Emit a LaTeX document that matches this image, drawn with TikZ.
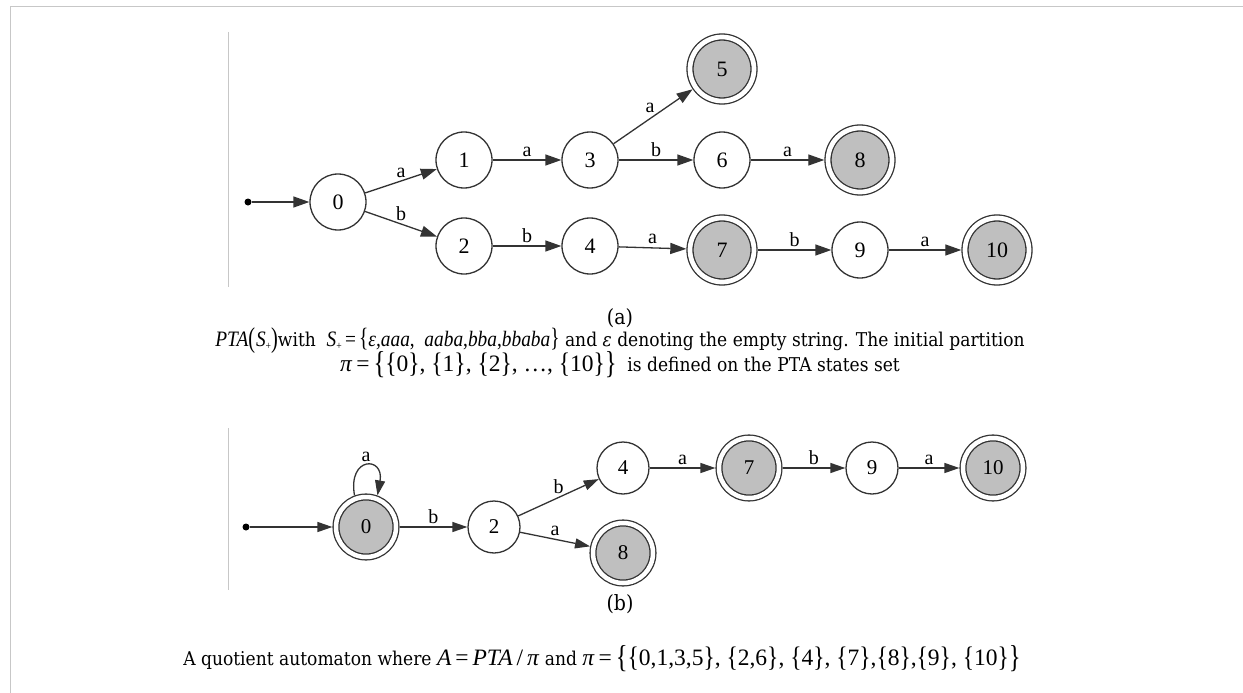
\documentclass[tikz,border=0pt]{standalone}
\usepackage{amsmath}
\usepackage{graphicx}
\usepackage{fontspec}
\setmainfont{DejaVu Serif}[FakeStretch=0.9]
\newfontfamily\gvfont{Liberation Serif}
\usetikzlibrary{arrows.meta}

% math-like pieces of the captions: Times italic letters, tall delimiters
\newcommand\gvsize{\fontsize{22}{24}\selectfont\gvfont}
\newcommand\gvbig{\fontsize{23.5}{24}\selectfont\gvfont}
\newcommand\mm[1]{\scalebox{0.88}[1]{\gvsize #1}}
\newcommand\md[1]{\scalebox{1.0}[1]{\gvbig #1}}
\newcommand\lb{\raisebox{-0.5pt}{\scalebox{1}[1.2]{\{}}}
\newcommand\rb{\raisebox{-0.5pt}{\scalebox{1}[1.2]{\}}}}
\newcommand\LB{\raisebox{-2pt}{\scalebox{1.05}[1.35]{\{}}}
\newcommand\RB{\raisebox{-2pt}{\scalebox{1.05}[1.35]{\}}}}
\newcommand\LP{\raisebox{-1.5pt}{\scalebox{1.05}[1.3]{(}}}
\newcommand\RP{\raisebox{-1.5pt}{\scalebox{1.05}[1.3]{)}}}
\newcommand\plus{\raisebox{-3pt}{\fontsize{11}{11}\selectfont+}}

\tikzset{
  x=1pt, y=-1pt,
  pageframe/.style={draw=black!22, line width=1.5pt},
  siderule/.style={draw=black!22, line width=0.9pt},
  state/.style={circle, draw=black!80, line width=1.3pt, fill=white,
    minimum size=56pt, inner sep=0pt,
    font=\gvfont\fontsize{22}{22}\selectfont},
  accept/.style={state, fill=black!25, double, double distance=4.7pt,
    minimum size=64pt, outer sep=3.7pt},
  stateb/.style={state, minimum size=52pt,
    font=\gvfont\fontsize{21}{21}\selectfont},
  acceptb/.style={stateb, fill=black!25, double, double distance=4.5pt,
    minimum size=60pt, outer sep=3.6pt},
  startdot/.style={circle, fill=black, inner sep=0pt, minimum size=7pt},
  trans/.style={draw=black!80, line width=1.3pt,
    -{Triangle[length=16pt, width=11pt]}},
  transb/.style={draw=black!80, line width=1.3pt,
    -{Triangle[length=15pt, width=10pt]}},
  lbl/.style={font=\gvfont\fontsize{20}{20}\selectfont, anchor=base,
    inner sep=0pt, yshift=4pt},
  captext/.style={font=\fontsize{19}{22}\selectfont, inner sep=0pt, anchor=center},
  tagtext/.style={font=\fontsize{21}{22}\selectfont, inner sep=0pt, anchor=center},
}

\begin{document}
\begin{tikzpicture}
\useasboundingbox (0,0) rectangle (1243,693);

% page frame and side rules
\draw[pageframe] (10.5,693) -- (10.5,6.5) -- (1243,6.5);
\draw[siderule] (228,32) -- (228,287);
\draw[siderule] (228,428) -- (228,590);

% ---------- (a) prefix tree acceptor ----------
\node[startdot] (as) at (248,202) {};
\node[state]  (a0)  at (338,202) {0};
\node[state]  (a1)  at (464,160) {1};
\node[state]  (a2)  at (464,246) {2};
\node[state]  (a3)  at (590,160) {3};
\node[state]  (a4)  at (590,246) {4};
\node[accept] (a5)  at (722,69)  {5};
\node[state]  (a6)  at (722,160) {6};
\node[accept] (a7)  at (722,250) {7};
\node[accept] (a8)  at (860,160) {8};
\node[state]  (a9)  at (860,250) {9};
\node[accept] (a10) at (997,250) {10};

\draw[trans] (as) -- (a0);
\draw[trans] (a0) -- node[lbl] {a} (a1);
\draw[trans] (a0) -- node[lbl] {b} (a2);
\draw[trans] (a1) -- node[lbl] {a} (a3);
\draw[trans] (a2) -- node[lbl] {b} (a4);
\draw[trans] (a3) -- node[lbl, xshift=-3pt] {a} (a5);
\draw[trans] (a3) -- node[lbl] {b} (a6);
\draw[trans] (a4) -- node[lbl] {a} (a7);
\draw[trans] (a6) -- node[lbl] {a} (a8);
\draw[trans] (a7) -- node[lbl] {b} (a9);
\draw[trans] (a9) -- node[lbl] {a} (a10);

\node[tagtext] (taga) at (620,318) {(a)};
\node[captext] (capa1) at (620,341) {\mm{\textit{PTA}\LP\kern1pt\textit{S}\plus\RP}with\;
  \mm{\textit{S}\plus\,=\,\lb\textit{ε,aaa},\ \ \textit{aaba},\textit{bba},\textit{bbaba}\rb}
  and \textit{ε} denoting the empty string. The initial partition};
\node[captext] (capa2) at (620,365) {\md{\textit{π}\,=\,\LB\lb0\rb,\
  \lb1\rb,\ \lb2\rb,\ …,\ \lb10\rb\RB}\;
  is defined on the PTA states set};

% ---------- (b) quotient automaton ----------
\node[startdot] (bs) at (246,527) {};
\node[acceptb] (b0)  at (366,527) {0};
\node[stateb]  (b2)  at (494,527) {2};
\node[stateb]  (b4)  at (623,468) {4};
\node[acceptb] (b8)  at (623,553) {8};
\node[acceptb] (b7)  at (749,468) {7};
\node[stateb]  (b9)  at (872,468) {9};
\node[acceptb] (b10) at (993,468) {10};

\draw[transb] (bs) -- (b0);
\draw[transb] (b0.110) .. controls +(-100:40) and +(-80:40) .. node[lbl] {a} (b0.70);
\draw[transb] (b0) -- node[lbl] {b} (b2);
\draw[transb] (b2) -- node[lbl] {b} (b4);
\draw[transb] (b2) -- node[lbl] {a} (b8);
\draw[transb] (b4) -- node[lbl] {a} (b7);
\draw[transb] (b7) -- node[lbl] {b} (b9);
\draw[transb] (b9) -- node[lbl] {a} (b10);

\node[tagtext] (tagb) at (620,604) {(b)};
\node[captext] (capb) at (602,659) {A quotient automaton where
  \md{\textit{A}\,=\,\textit{PTA}\,/\,\textit{π}} and
  \md{\textit{π}\,=\,\LB\lb0,1,3,5\rb, \lb2,6\rb,
  \lb4\rb, \lb7\rb,\lb8\rb,\lb9\rb, \lb10\rb\RB}};
\end{tikzpicture}
\end{document}
